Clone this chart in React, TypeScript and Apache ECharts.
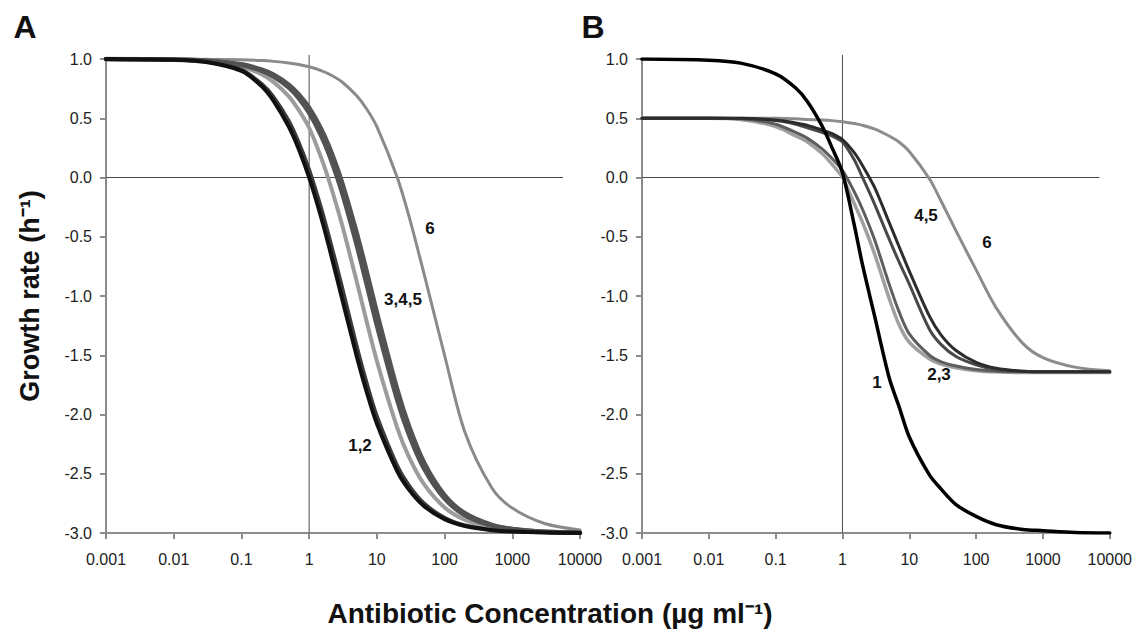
import React, { useEffect, useRef } from "react";
import * as echarts from "echarts";

// Antibiotic concentration (µg/ml) sample points shared by every curve
const concentrations = [0.001, 0.01, 0.03, 0.1, 0.2, 0.3, 0.5, 0.7, 1, 1.5, 2, 3, 5, 7, 10, 20, 30, 50, 100, 200, 500, 1000, 3000, 10000];

// Panel A growth rates (h^-1)
const a1 = [1.0, 0.993, 0.975, 0.9, 0.77, 0.645, 0.43, 0.243, 0.0, -0.333, -0.6, -1.0, -1.5, -1.8, -2.077, -2.478, -2.636, -2.774, -2.883, -2.941, -2.976, -2.988, -2.996, -2.999];
const a2 = [1.0, 0.994, 0.978, 0.91, 0.79, 0.68, 0.48, 0.3, 0.07, -0.25, -0.51, -0.9, -1.41, -1.72, -2.01, -2.43, -2.6, -2.75, -2.87, -2.935, -2.974, -2.987, -2.996, -2.999];
const a3 = [0.999, 0.993, 0.979, 0.935, 0.87, 0.805, 0.685, 0.57, 0.42, 0.17, -0.04, -0.38, -0.87, -1.205, -1.548, -2.112, -2.361, -2.59, -2.784, -2.889, -2.955, -2.977, -2.992, -2.998];
const a4 = [0.999, 0.995, 0.985, 0.949, 0.9, 0.852, 0.759, 0.671, 0.545, 0.355, 0.184, -0.111, -0.563, -0.892, -1.247, -1.878, -2.175, -2.46, -2.71, -2.85, -2.939, -2.969, -2.99, -2.997];
const a5 = [0.999, 0.995, 0.986, 0.955, 0.91, 0.867, 0.783, 0.702, 0.588, 0.412, 0.252, -0.026, -0.46, -0.783, -1.139, -1.788, -2.101, -2.407, -2.68, -2.833, -2.932, -2.966, -2.989, -2.997];
const a6 = [1.0, 0.999, 0.998, 0.993, 0.987, 0.98, 0.967, 0.954, 0.934, 0.902, 0.871, 0.81, 0.692, 0.582, 0.429, 0.0, -0.333, -0.818, -1.5, -2.15, -2.62, -2.79, -2.92, -2.975];

// Panel B growth rates (h^-1)
const b1 = [0.999, 0.99, 0.965, 0.875, 0.755, 0.64, 0.43, 0.25, 0.04, -0.4, -0.74, -1.16, -1.69, -1.93, -2.19, -2.51, -2.63, -2.76, -2.86, -2.93, -2.97, -2.98, -2.995, -3.0];
const b2 = [0.5, 0.5, 0.49, 0.43, 0.35, 0.3, 0.2, 0.11, 0.0, -0.22, -0.38, -0.64, -1.02, -1.24, -1.39, -1.53, -1.575, -1.605, -1.63, -1.64, -1.645, -1.645, -1.645, -1.645];
const b3 = [0.5, 0.5, 0.495, 0.45, 0.38, 0.33, 0.24, 0.16, 0.06, -0.12, -0.27, -0.52, -0.9, -1.13, -1.32, -1.5, -1.555, -1.59, -1.62, -1.635, -1.64, -1.64, -1.64, -1.64];
const b4 = [0.5, 0.5, 0.497, 0.48, 0.45, 0.42, 0.38, 0.35, 0.3, 0.15, 0.0, -0.22, -0.52, -0.71, -0.9, -1.28, -1.41, -1.51, -1.58, -1.62, -1.635, -1.64, -1.64, -1.64];
const b5 = [0.5, 0.5, 0.5, 0.485, 0.46, 0.44, 0.4, 0.37, 0.32, 0.21, 0.1, -0.08, -0.38, -0.58, -0.79, -1.17, -1.33, -1.46, -1.56, -1.61, -1.635, -1.64, -1.64, -1.64];
const b6 = [0.5, 0.5, 0.5, 0.5, 0.495, 0.49, 0.485, 0.48, 0.47, 0.455, 0.44, 0.41, 0.35, 0.3, 0.22, -0.01, -0.2, -0.45, -0.78, -1.1, -1.4, -1.52, -1.6, -1.63];

// Axis tick labels
const xTickLabels = ["0.001", "0.01", "0.1", "1", "10", "100", "1000", "10000"];
const yMin = -3;
const yMax = 1;
const yStep = 0.5;

// Reference lines (MIC = 1, zero growth)
const micLine = [[1, -3], [1, 1.035]];
const zeroLineA = [[0.001, 0], [5600, 0]];
const zeroLineB = [[0.001, 0], [7000, 0]];

const FONT = '"Liberation Sans", Arial, Helvetica, sans-serif';

function curve(ys: number[], color: string, width: number, axis: number, z: number) {
  return {
    type: "line",
    xAxisIndex: axis,
    yAxisIndex: axis,
    data: concentrations.map((c, i) => [c, ys[i]]),
    symbol: "none",
    showSymbol: false,
    smooth: 0.3,
    silent: true,
    z,
    lineStyle: { color, width, cap: "round", join: "round" },
  };
}

function refLine(data: number[][], axis: number) {
  return {
    type: "line",
    xAxisIndex: axis,
    yAxisIndex: axis,
    data,
    symbol: "none",
    showSymbol: false,
    silent: true,
    clip: false,
    z: 1,
    lineStyle: { color: "#4a4a4a", width: 1 },
  };
}

function xAxis(gridIndex: number) {
  return {
    type: "log",
    logBase: 10,
    gridIndex,
    min: 0.001,
    max: 10000,
    interval: 1,
    axisLine: { onZero: false, lineStyle: { color: "#8c8c8c", width: 2 } },
    axisTick: { show: true, length: 6, lineStyle: { color: "#8c8c8c", width: 2 } },
    splitLine: { show: false },
    minorTick: { show: false },
    axisLabel: {
      margin: 18,
      color: "#222",
      fontSize: 16,
      fontFamily: FONT,
      formatter: (v: number) => xTickLabels[Math.round(Math.log10(v)) + 3] ?? "",
    },
  };
}

function yAxis(gridIndex: number) {
  return {
    type: "value",
    gridIndex,
    min: yMin,
    max: yMax,
    interval: yStep,
    axisLine: { show: true, onZero: false, lineStyle: { color: "#8c8c8c", width: 2 } },
    axisTick: { show: true, length: 6, lineStyle: { color: "#8c8c8c", width: 2 } },
    splitLine: { show: false },
    axisLabel: {
      margin: 14,
      color: "#222",
      fontSize: 16,
      fontFamily: FONT,
      formatter: (v: number) => v.toFixed(1),
    },
  };
}

function label(text: string, x: number, y: number, size = 17) {
  return {
    type: "text",
    x,
    y,
    z: 100,
    style: {
      text,
      font: `bold ${size}px ${FONT}`,
      fill: "#111",
      align: "center",
      textAlign: "center",
      verticalAlign: "middle",
      textVerticalAlign: "middle",
    },
  };
}

export default function App() {
  const ref = useRef<HTMLDivElement>(null);

  useEffect(() => {
    if (!ref.current) return;
    const chart = echarts.init(ref.current, undefined, { renderer: "svg" });
    chart.setOption({
      animation: false,
      backgroundColor: "#ffffff",
      textStyle: { fontFamily: FONT },
      grid: [
        { left: 106, top: 59, width: 474, height: 474, containLabel: false },
        { left: 642, top: 59, width: 468, height: 474, containLabel: false },
      ],
      xAxis: [xAxis(0), xAxis(1)],
      yAxis: [yAxis(0), yAxis(1)],
      series: [
        refLine(micLine, 0),
        refLine(zeroLineA, 0),
        refLine(micLine, 1),
        refLine(zeroLineB, 1),
        curve(a6, "#8a8a8a", 3, 0, 2),
        curve(a3, "#9c9c9c", 4, 0, 3),
        curve(a4, "#525252", 4.5, 0, 4),
        curve(a5, "#525252", 4.5, 0, 4),
        curve(a2, "#3a3a3a", 3.5, 0, 5),
        curve(a1, "#111111", 4, 0, 6),
        curve(b6, "#8c8c8c", 3, 1, 2),
        curve(b2, "#a0a0a0", 3.5, 1, 3),
        curve(b3, "#5e5e5e", 3, 1, 4),
        curve(b4, "#484848", 3, 1, 4),
        curve(b5, "#2c2c2c", 3, 1, 5),
        curve(b1, "#000000", 3.5, 1, 6),
      ],
      graphic: [
        label("A", 25, 27, 32),
        label("B", 593, 27, 32),
        label("6", 430, 228),
        label("3,4,5", 403, 299),
        label("1,2", 360, 445),
        label("4,5", 926, 215),
        label("6", 987, 242),
        label("1", 877, 382),
        label("2,3", 939, 374),
        {
          type: "text",
          x: 550,
          y: 613,
          z: 100,
          style: {
            text: "Antibiotic Concentration (µg ml⁻¹)",
            font: `bold 28px ${FONT}`,
            fill: "#111",
            align: "center",
            textAlign: "center",
            verticalAlign: "middle",
            textVerticalAlign: "middle",
          },
        },
        {
          type: "text",
          x: 30,
          y: 296,
          rotation: Math.PI / 2,
          z: 100,
          style: {
            text: "Growth rate (h⁻¹)",
            font: `bold 27px ${FONT}`,
            fill: "#111",
            align: "center",
            textAlign: "center",
            verticalAlign: "middle",
            textVerticalAlign: "middle",
          },
        },
      ],
    });
    return () => chart.dispose();
  }, []);

  return (
    <div
      ref={ref}
      style={{ position: "absolute", left: 0, top: 0, width: 1135, height: 630, background: "#fff" }}
    />
  );
}
